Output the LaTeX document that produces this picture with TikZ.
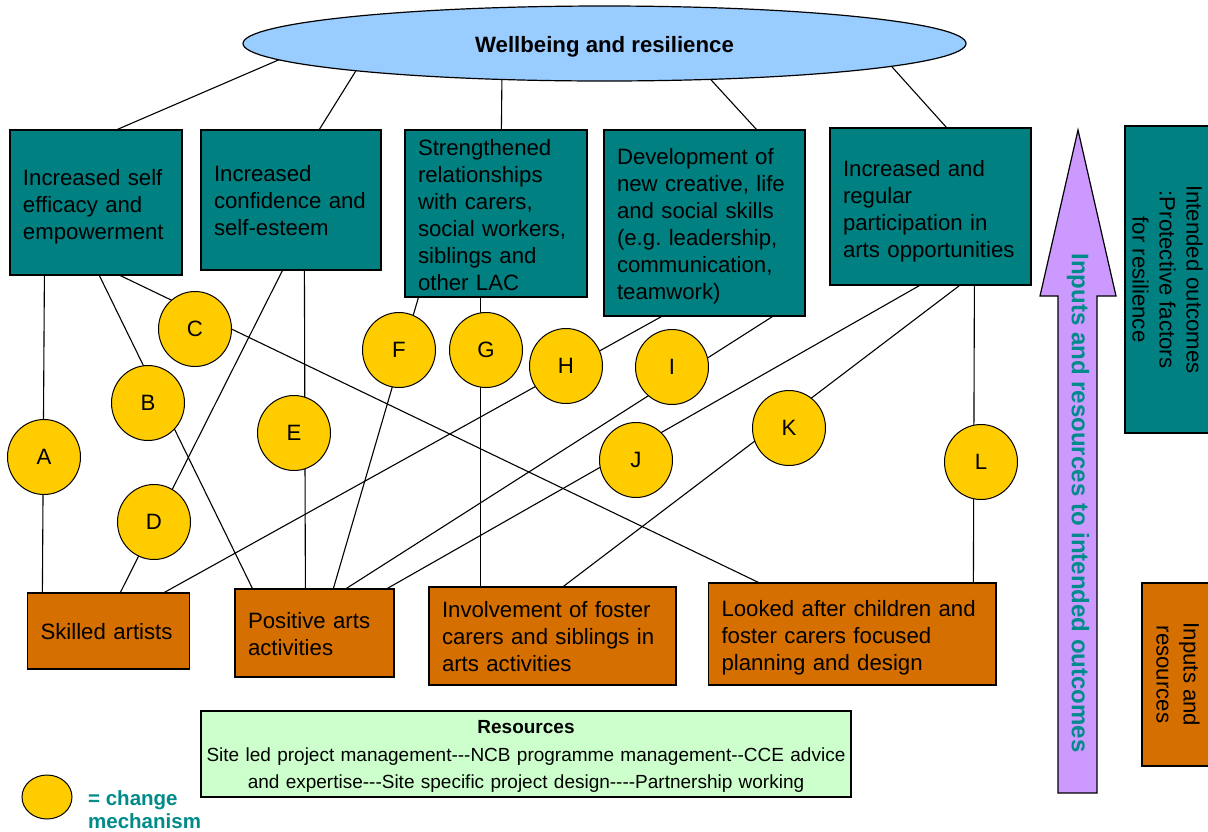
\documentclass[tikz,border=0pt]{standalone}
\usepackage{fontspec}
\setmainfont{Liberation Sans}
\newfontfamily\resfont{Liberation Sans}[Ligatures=TeXOff]
\usetikzlibrary{shapes.geometric,calc}
\pgfdeclarelayer{background}
\pgfsetlayers{background,main}
\definecolor{tealbox}{HTML}{008080}
\definecolor{orangebox}{HTML}{D56F00}
\definecolor{mechyellow}{HTML}{FFCC00}
\definecolor{ellblue}{HTML}{99CCFF}
\definecolor{arrowpurple}{HTML}{CC99FF}
\definecolor{resgreen}{HTML}{CCFFCC}
\definecolor{tealtext}{HTML}{008B8B}
\newcommand\fsmain{\fontsize{22.2}{27}\selectfont}
\newcommand\fsres{\fontsize{19}{27.5}\selectfont\resfont}
\newcommand\fsarrow{\fontsize{24}{28}\selectfont\bfseries}
\newcommand\fslegend{\fontsize{20.5}{23}\selectfont\bfseries}
\newcommand\dn[1]{\par\kern-#1pt}
\begin{document}
\begin{tikzpicture}[x=1pt,y=-1pt,
  outcomebox/.style={rectangle,draw=black,line width=1.2pt,fill=tealbox,inner xsep=13pt,inner ysep=0pt,align=left,font=\fsmain},
  inputbox/.style={rectangle,draw=black,line width=1.2pt,fill=orangebox,inner xsep=13pt,inner ysep=0pt,align=left,font=\fsmain},
  mechnode/.style={ellipse,draw=black,line width=1pt,fill=mechyellow,minimum width=73pt,minimum height=75pt,inner sep=0pt,font=\fsmain},
  conn/.style={draw=black,line width=1.1pt}
]
\useasboundingbox (0,0) rectangle (1208,831);
\begin{pgfonlayer}{background}
\fill[white] (0,0) rectangle (1208,831);
\end{pgfonlayer}

% top ellipse
\node[ellipse,draw=black,line width=1.2pt,fill=ellblue,minimum width=723pt,minimum height=75pt,inner sep=0pt,text height=17.8pt,text depth=0pt,font=\fsmain\bfseries] (W) at (604.5,43.5) {Wellbeing and resilience};

% outcome boxes
\node[outcomebox,text width=146pt,minimum height=145pt] (T1) at (96,202.5) {Increased~self\\efficacy~and\\empowerment\dn{8}};
\node[outcomebox,text width=154pt,minimum height=140pt] (T2) at (291,200) {Increased\\confidence~and\\self-esteem\dn{2}};
\node[outcomebox,text width=156pt,minimum height=167pt] (T3) at (496,213.5) {Strengthened\\relationships\\with~carers,\\social~workers,\\siblings~and\\other~LAC\dn{4}};
\node[outcomebox,text width=175pt,minimum height=186pt] (T4) at (704.5,223) {Development~of\\new~creative,~life\\and~social~skills\\(e.g.~leadership,\\communication,\\teamwork)\dn{6}};
\node[outcomebox,text width=175pt,minimum height=157pt] (T5) at (930.5,206.5) {Increased~and\\regular\\participation~in\\arts~opportunities\dn{10}};

% input boxes
\node[inputbox,text width=136pt,minimum height=76pt] (O1) at (108.5,631) {Skilled~artists\dn{4}};
\node[inputbox,text width=133pt,minimum height=88pt] (O2) at (314.5,633) {Positive~arts\\activities\dn{2}};
\node[inputbox,text width=221pt,minimum height=98pt] (O3) at (552.5,636) {Involvement~of~foster\\carers~and~siblings~in\\arts~activities\dn{2}};
\node[inputbox,text width=261.5pt,minimum height=102pt] (O4) at (852.25,634) {Looked~after~children~and\\foster~carers~focused\\planning~and~design\dn{8}};

% resources box
\node[rectangle,draw=black,line width=1.2pt,fill=resgreen,minimum width=650pt,minimum height=86pt,text width=640pt,inner sep=0pt,align=center,font=\fsres] (R) at (526,754) {{\bfseries Resources}\\Site led project management---NCB programme management--CCE advice\\and expertise---Site specific project design----Partnership working\dn{5}};

% right side boxes
\node[rectangle,draw=black,line width=1.2pt,fill=tealbox,minimum width=87pt,minimum height=307pt,inner sep=0pt] (PF) at (1168.5,279.5) {};
\node[rotate=-90,align=center,font=\fsmain,inner sep=0pt] (PFtext) at (1167.5,279.5) {Intended outcomes\\:Protective factors\\for resilience};
\node[rectangle,draw=black,line width=1.2pt,fill=orangebox,minimum width=70pt,minimum height=183pt,inner sep=0pt] (IR) at (1177,674.5) {};
\node[rotate=-90,align=center,font=\fsmain,inner sep=0pt] (IRtext) at (1178,674.5) {Inputs and\\resources};

% big arrow
\filldraw[fill=arrowpurple,draw=black,line width=1.2pt] (1058,793) -- (1058,296) -- (1040,296) -- (1078,130) -- (1116,296) -- (1097,296) -- (1097,793) -- cycle;
\node[rotate=-90,font=\fsarrow,text=tealtext,inner sep=0pt] (ARtext) at (1078,503) {Inputs and resources to intended outcomes};

% mechanisms
\node[mechnode] (A) at (44,457) {A};
\node[mechnode] (B) at (148,403) {B};
\node[mechnode] (C) at (195,329) {C};
\node[mechnode] (D) at (154,522) {D};
\node[mechnode] (E) at (294,433) {E};
\node[mechnode] (F) at (399,350) {F};
\node[mechnode] (G) at (486,350) {G};
\node[mechnode] (H) at (566,366) {H};
\node[mechnode] (I) at (672,367) {I};
\node[mechnode] (J) at (636,460) {J};
\node[mechnode] (K) at (789,428) {K};
\node[mechnode] (L) at (981,462) {L};

% legend
\node[ellipse,draw=black,line width=1pt,fill=mechyellow,minimum width=50pt,minimum height=44pt,inner sep=0pt] (LegC) at (47,797) {};
\node[anchor=west,align=left,font=\fslegend,text=tealtext,inner sep=0pt] (LegT) at (88,809.5) {= change\\mechanism};

% connectors
\begin{pgfonlayer}{background}
\draw[conn] ($(W.center)+(-314.5,11.5)$) -- ([xshift=108pt]T1.north west);
\draw[conn] ($(W.center)+(-242.5,17.5)$) -- ([xshift=119pt]T2.north west);
\draw[conn] ($(W.center)+(-102.5,26.5)$) -- ([xshift=97pt]T3.north west);
\draw[conn] ($(W.center)+(97.5,26.5)$) -- ([xshift=153pt]T4.north west);
\draw[conn] ($(W.center)+(279.5,14.5)$) -- ([xshift=117pt]T5.north west);

\draw[conn] ([xshift=35pt]T1.south west) -- ([xshift=15.5pt]O1.north west);
\draw[conn] ([xshift=90pt]T1.south west) -- ([xshift=18pt]O2.north west);
\draw[conn] ([xshift=111pt]T1.south west) -- ([xshift=50.5pt]O4.north west);
\draw[conn] ([xshift=82pt]T2.south west) -- ([xshift=93.5pt]O1.north west);
\draw[conn] ([xshift=104pt]T2.south west) -- ([xshift=71pt]O2.north west);
\draw[conn] ([xshift=14pt]T3.south west) -- ([xshift=99pt]O2.north west);
\draw[conn] ([xshift=76pt]T3.south west) -- ([xshift=52pt]O3.north west);
\draw[conn] ([xshift=58pt]T4.south west) -- ([xshift=137.5pt]O1.north west);
\draw[conn] ([xshift=169pt]T4.south west) -- ([xshift=112pt]O2.north west);
\draw[conn] ([xshift=90pt]T5.south west) -- ([xshift=153pt]O2.north west);
\draw[conn] ([xshift=130pt]T5.south west) -- ([xshift=135pt]O3.north west);
\draw[conn] ([xshift=145pt]T5.south west) -- ([xshift=265.5pt]O4.north west);
\end{pgfonlayer}
\end{tikzpicture}
\end{document}
